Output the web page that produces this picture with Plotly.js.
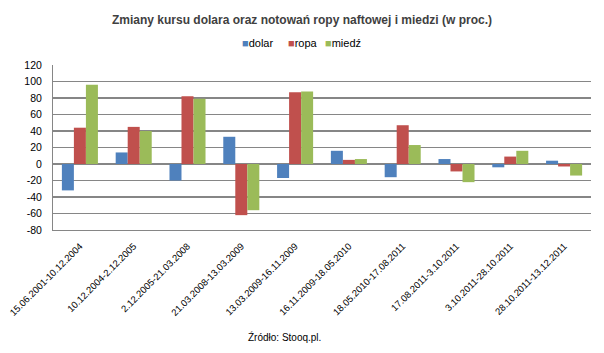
<!DOCTYPE html>
<html>
<head>
<meta charset="utf-8">
<script src="https://cdn.plot.ly/plotly-3.0.1.min.js"></script>
<style>html,body{margin:0;padding:0;background:#fff;}#chart{width:604px;height:353px;}</style>
</head>
<body>
<div id="chart"></div>
<script>
const categories = [
  "15.06.2001-10.12.2004",
  "10.12.2004-2.12.2005",
  "2.12.2005-21.03.2008",
  "21.03.2008-13.03.2009",
  "13.03.2009-16.11.2009",
  "16.11.2009-18.05.2010",
  "18.05.2010-17.08.2011",
  "17.08.2011-3.10.2011",
  "3.10.2011-28.10.2011",
  "28.10.2011-13.12.2011"
];
const seriesNames = ['dolar', 'ropa', 'miedź'];
const dolar = [-32, 14, -20, 33, -17, 16, -16, 6, -4, 4];
const ropa = [44, 45, 82, -62, 87, 5, 47, -9, 9, -3];
const miedz = [96, 40, 79, -56, 88, 6, 23, -22, 16, -14];
const yTicks = [-80, -60, -40, -20, 0, 20, 40, 60, 80, 100, 120];
const colors = ['#4F81BD', '#C0504D', '#9BBB59'];

const values = [dolar, ropa, miedz];
const data = values.map((v, i) => ({
  type: 'bar', name: seriesNames[i], x: categories, y: v, marker: {color: colors[i]}
}));

// plot area: x 53..591, y 65..230 (px)
const px2x = p => (p - 53) / 538;
const py2y = p => (230 - p) / 165;

const legendX = [257, 303, 343];
const legendAnn = seriesNames.map((n, i) => ({
  text: '<span style="color:' + colors[i] + '">■</span>' + n,
  xref: 'paper', yref: 'paper', x: px2x(legendX[i]), y: py2y(43),
  xanchor: 'center', yanchor: 'middle', showarrow: false,
  font: {size: 11, color: '#000'}
}));

const layout = {
  width: 604, height: 353,
  margin: {l: 53, r: 13, t: 65, b: 123},
  paper_bgcolor: '#fff', plot_bgcolor: '#fff',
  font: {family: 'Liberation Sans, Arial, sans-serif', size: 10, color: '#000'},
  title: {text: 'Zmiany kursu dolara oraz notowań ropy naftowej i miedzi (w proc.)',
          font: {family: 'Liberation Sans, Arial, sans-serif', size: 12, color: '#404040', weight: 'bold'},
          x: 0.5, xanchor: 'center', y: 1 - 20 / 353, yanchor: 'middle', yref: 'container'},
  barmode: 'group', bargap: 0.33, bargroupgap: 0,
  showlegend: false,
  xaxis: {type: 'category', tickangle: -45, tickfont: {size: 9.5, color: '#000'},
          ticks: 'outside', ticklen: 6, tickcolor: 'rgba(0,0,0,0)',
          showline: true, linecolor: '#868686', linewidth: 1, showgrid: false, automargin: false},
  yaxis: {range: [-80, 120], tickvals: yTicks, ticktext: yTicks.map(String),
          showgrid: true, gridcolor: '#868686', gridwidth: 1.2,
          zeroline: true, zerolinecolor: '#868686', zerolinewidth: 1.2,
          showline: true, linecolor: '#868686', linewidth: 1,
          ticks: 'outside', ticklen: 8, tickcolor: 'rgba(0,0,0,0)',
          tickfont: {size: 10.5, color: '#000'}, automargin: false},
  annotations: legendAnn.concat([{text: 'Źródło: Stooq.pl.', xref: 'paper', yref: 'paper', x: px2x(284), y: py2y(337),
                 xanchor: 'center', yanchor: 'middle', showarrow: false,
                 font: {size: 10, color: '#000'}}])
};

Plotly.newPlot('chart', data, layout, {displayModeBar: false, staticPlot: true});
</script>
</body>
</html>
